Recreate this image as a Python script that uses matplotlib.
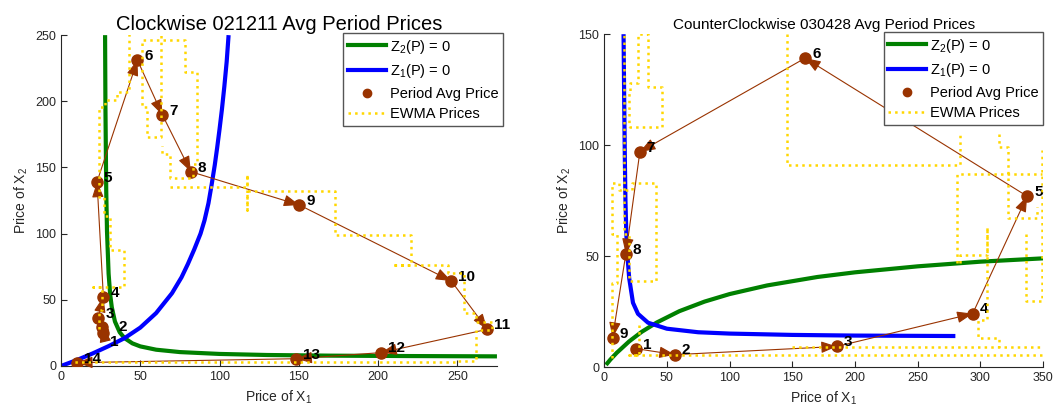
import numpy as np
import matplotlib
matplotlib.use('Agg')
from matplotlib import pyplot as plt
from matplotlib.lines import Line2D

plt.rcParams['font.family'] = ['Liberation Sans', 'DejaVu Sans']

BROWN = '#993300'
GREEN = '#008000'
BLUE = '#0000ff'
GOLD = '#ffd700'
GRAY = '#262626'

# ---- left panel: clockwise 021211 ----
cw_z2_x = [27.78, 28, 28.5, 29, 30, 31, 32, 34, 37, 40, 45, 50, 60, 75, 100, 130, 170, 220, 275]
cw_z2_y = [250, 196.5, 133, 101.5, 69.8, 54, 44.5, 33.6, 25.5, 21.1, 17.1, 14.8, 12.3, 10.5, 9.1, 8.3, 7.8, 7.5, 7.27]
cw_z1_x = [0, 10, 20, 30, 40, 50, 60, 70, 76, 80, 84, 88, 90.5, 93, 95, 97, 98.5, 100, 101.5, 103, 104.5, 105.7]
cw_z1_y = [0, 4.5, 9.5, 15, 21, 29, 40, 55, 67, 77, 88, 100, 110, 123, 137, 152, 165, 179, 194, 211, 230, 250]
cw_px = [26.7, 25.7, 23.5, 26.7, 22.7, 48.2, 64.0, 81.9, 150.4, 246.2, 268.9, 202.0, 148.5, 10.1]
cw_py = [24.7, 29.7, 36.0, 52.3, 139.2, 231.1, 189.6, 146.8, 121.6, 64.2, 27.7, 10.1, 5.5, 2.5]
cw_ewma_x = [24, 24, 26, 26, 20, 40, 40, 31, 31, 27, 27, 24, 24, 28, 28, 35, 35, 43, 43, 63, 63, 54, 54,
             51, 51, 78, 78, 86, 86, 83, 83, 69, 69, 64, 64, np.nan,
             69, 117, 117, 117, 117, 173, 173, 221, 221, 209, 244, 244, 254, 254, 262, 262, 272, 272,
             262, 262, 250, 250, 15, 8]
cw_ewma_y = [28, 42, 42, 60, 60, 60, 88, 88, 113, 113, 128, 128, 196, 196, 201, 201, 207, 207, 260, 260, 173, 173, 196,
             196, 246, 246, 222, 222, 153, 153, 142, 142, 160, 160, 166, np.nan,
             135, 135, 145, 118, 132, 132, 99, 99, 76, 76, 76, 70, 70, 40, 40, 33, 33, 27,
             27, 4, 4, 3, 3, 3]
cw_label_off = [(5, -6), (12, 0), (5, 3), (5, 3), (5, 3), (5, 3), (5, 3), (5, 3), (5, 3),
                (5, 3), (5, 3), (5, 3), (5, 3), (5, 3)]

# ---- right panel: counterclockwise 030428 ----
ccw_z2_x = [1.5, 5, 10, 20, 30, 42, 60, 80, 100, 130, 170, 200, 250, 300, 350]
ccw_z2_y = [1.0, 3.4, 6.4, 11.6, 15.9, 20.1, 25.2, 29.5, 32.9, 36.8, 40.6, 42.7, 45.4, 47.5, 49]
ccw_z1_x = [15.5, 16, 16.5, 17, 17.7, 18.6, 20, 23, 27, 35, 50, 75, 100, 150, 200, 280]
ccw_z1_y = [150, 120, 95, 75, 60, 50, 40, 29, 24, 20, 17.3, 15.7, 15.1, 14.5, 14.2, 14.0]
ccw_px = [25.8, 56.4, 185.5, 293.8, 337.2, 160.2, 28.5, 17.3, 6.7]
ccw_py = [8.3, 5.6, 9.3, 24.1, 77.0, 139.2, 97.0, 50.9, 13.2]
ccw_ewma_x = [6, 6, 10, 10, 6, 6, 12, 12, 22, 22, 41, 41, 20, 20, 16, 16, np.nan,
              20, 46, 46, 35, 35, 27, 27, 21, 21, 20, 20, np.nan,
              28, 28, 20, 20, 350, np.nan, 150, 350, np.nan,
              146, 146, 284, 284, np.nan, 281, 281, 349, np.nan,
              284, 284, 305, 305, 305, 298, 298, 315, 315, np.nan,
              315, 315, 322, 322, 345, 345, np.nan, 336, 336, 349, 349]
ccw_ewma_y = [4, 38, 38, 60, 60, 83, 83, 80, 80, 83, 83, 39, 39, 60, 60, 150, np.nan,
              108, 108, 126, 126, 150, 150, 128, 128, 124, 124, 108, np.nan,
              19, 5.4, 5.4, 5.4, 5.4, np.nan, 9.2, 9.2, np.nan,
              150, 91, 91, 105, np.nan, 47, 87, 87, np.nan,
              47, 50.5, 50.5, 63, 21, 21, 13, 13, 9, np.nan,
              105, 99, 99, 67, 67, 72, np.nan, 60, 30, 30, 98]
ccw_label_off = [(5, 3)] * 9


def panel(ax, z2x, z2y, z1x, z1y, px, py, offs, ex, ey, xmax, ymax, title, tsize, leg_x):
    ax.plot(z2x, z2y, color=GREEN, lw=3, solid_capstyle='butt', zorder=2)
    ax.plot(z1x, z1y, color=BLUE, lw=3, solid_capstyle='butt', zorder=2)
    ax.plot(px, py, 'o', color=BROWN, ms=8, zorder=3)
    for i in range(len(px) - 1):
        ax.annotate('', xy=(px[i + 1], py[i + 1]), xytext=(px[i], py[i]),
                    arrowprops=dict(arrowstyle='-|>,head_length=0.8,head_width=0.3', color=BROWN,
                                    lw=0.8, mutation_scale=12, shrinkA=0, shrinkB=0), zorder=4)
    for i in range(len(px)):
        ax.annotate(str(i + 1), (px[i], py[i]), xytext=offs[i], textcoords='offset points',
                    fontsize=11, fontweight='bold', ha='left', va='center', zorder=5)
    ax.plot(ex, ey, ':', color=GOLD, lw=1.8, zorder=5)
    ax.set_xlim(0, xmax)
    ax.set_ylim(0, ymax)
    ax.set_title(title, fontsize=tsize, pad=4)
    ax.set_xlabel('Price of $\\mathregular{X_1}$', fontsize=10, color=GRAY)
    ax.set_ylabel('Price of $\\mathregular{X_2}$', fontsize=10, color=GRAY)
    ax.tick_params(direction='in', labelsize=9, colors=GRAY, length=4)
    for s in ['top', 'right']:
        ax.spines[s].set_visible(False)
    for s in ['left', 'bottom']:
        ax.spines[s].set_color(GRAY)
    handles = [Line2D([], [], color=GREEN, lw=3),
               Line2D([], [], color=BLUE, lw=3),
               Line2D([], [], color=BROWN, marker='o', ls='none', ms=6),
               Line2D([], [], color=GOLD, ls=':', lw=1.8)]
    labels = ['$\\mathregular{Z_2}$(P) = 0', '$\\mathregular{Z_1}$(P) = 0', 'Period Avg Price', 'EWMA Prices']
    leg = ax.legend(handles, labels, loc='upper right', bbox_to_anchor=(leg_x, 1.006), fontsize=10.5,
                    fancybox=False, framealpha=1, edgecolor='#555555', handlelength=2.6,
                    borderaxespad=0, labelspacing=0.45, handletextpad=0.3, borderpad=0.3)
    leg.get_frame().set_linewidth(1)
    leg.set_zorder(10)


fig = plt.figure(figsize=(10.58, 4.12), dpi=100)
ax1 = fig.add_axes([0.0577, 0.1117, 0.412, 0.803])
ax2 = fig.add_axes([0.571, 0.109, 0.415, 0.808])

panel(ax1, cw_z2_x, cw_z2_y, cw_z1_x, cw_z1_y, cw_px, cw_py, cw_label_off, cw_ewma_x, cw_ewma_y,
      275, 250, 'Clockwise 021211 Avg Period Prices', 14.5, 1.014)
panel(ax2, ccw_z2_x, ccw_z2_y, ccw_z1_x, ccw_z1_y, ccw_px, ccw_py, ccw_label_off, ccw_ewma_x, ccw_ewma_y,
      350, 150, 'CounterClockwise 030428 Avg Period Prices', 11, 1.0)
ax1.set_xticks([0, 50, 100, 150, 200, 250])
ax1.set_yticks([0, 50, 100, 150, 200, 250])
ax2.set_xticks([0, 50, 100, 150, 200, 250, 300, 350])
ax2.set_yticks([0, 50, 100, 150])

fig.savefig('out.png', dpi=100)
